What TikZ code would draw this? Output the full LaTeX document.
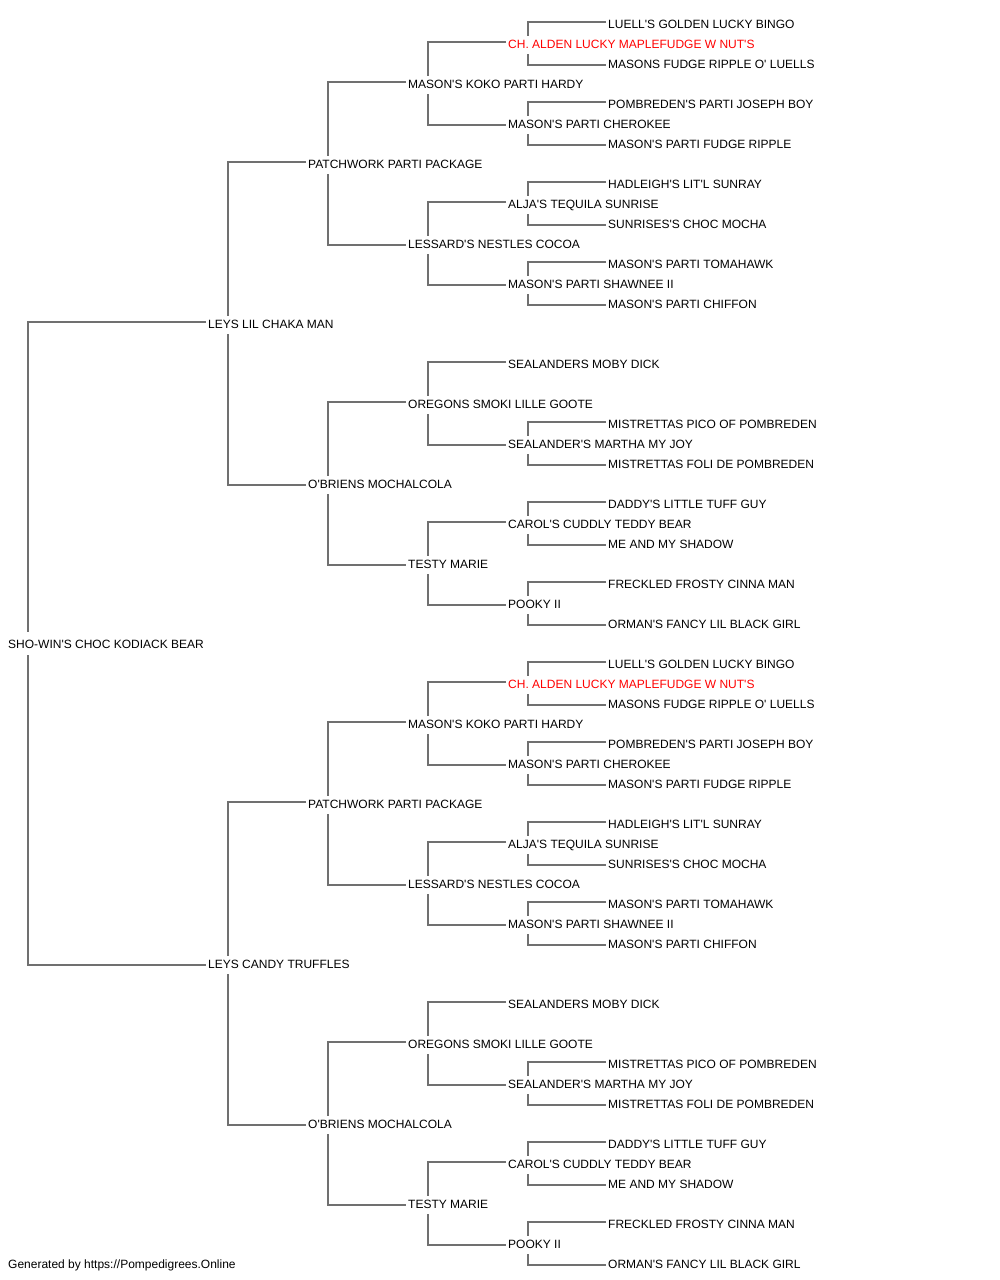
\documentclass[tikz,border=0pt]{standalone}
\usepackage{fontspec}
\newfontfamily\libsans{Liberation Sans}
\usetikzlibrary{calc}
\definecolor{linec}{RGB}{112,112,112}
\definecolor{txt}{RGB}{0,0,0}
\definecolor{redt}{RGB}{255,0,0}
\tikzset{
  pn/.style={anchor=west, inner sep=0pt, text height=16.8pt, text depth=6.2pt,
    font=\libsans\fontsize{12}{14}\selectfont, text=txt},
  link/.style={draw=linec, line width=1.4pt}
}
% upper child: horizontal to child, vertical down to just above parent
\newcommand\upc[3][8]{\draw[link] ($(#3.west)+(-2,-1.5)$) -| ($(#2.west)+(20,-#1)$);}
% lower child: vertical from just below parent, horizontal to child
\newcommand\dnc[3][10.5]{\draw[link] ($(#2.west)+(20,#1)$) |- ($(#3.west)+(-2,1.5)$);}
\newcommand\pedhalf[3]{%
  \node[pn] (L1#2) at (208,323+#1) {#3};
  \node[pn] (L2a#2) at (308,163+#1) {PATCHWORK PARTI PACKAGE};
  \node[pn] (L2b#2) at (308,483+#1) {O'BRIENS MOCHALCOLA};
  \node[pn] (L3a#2) at (408,83+#1) {MASON'S KOKO PARTI HARDY};
  \node[pn] (L3b#2) at (408,243+#1) {LESSARD'S NESTLES COCOA};
  \node[pn] (L3c#2) at (408,403+#1) {OREGONS SMOKI LILLE GOOTE};
  \node[pn] (L3d#2) at (408,563+#1) {TESTY MARIE};
  \node[pn,text=redt] (L4a#2) at (508,43+#1) {CH. ALDEN LUCKY MAPLEFUDGE W NUT'S};
  \node[pn] (L4b#2) at (508,123+#1) {MASON'S PARTI CHEROKEE};
  \node[pn] (L4c#2) at (508,203+#1) {ALJA'S TEQUILA SUNRISE};
  \node[pn] (L4d#2) at (508,283+#1) {MASON'S PARTI SHAWNEE II};
  \node[pn] (L4e#2) at (508,363+#1) {SEALANDERS MOBY DICK};
  \node[pn] (L4f#2) at (508,443+#1) {SEALANDER'S MARTHA MY JOY};
  \node[pn] (L4g#2) at (508,523+#1) {CAROL'S CUDDLY TEDDY BEAR};
  \node[pn] (L4h#2) at (508,603+#1) {POOKY II};
  \node[pn] (L5a#2) at (608,23+#1) {LUELL'S GOLDEN LUCKY BINGO};
  \node[pn] (L5b#2) at (608,63+#1) {MASONS FUDGE RIPPLE O' LUELLS};
  \node[pn] (L5c#2) at (608,103+#1) {POMBREDEN'S PARTI JOSEPH BOY};
  \node[pn] (L5d#2) at (608,143+#1) {MASON'S PARTI FUDGE RIPPLE};
  \node[pn] (L5e#2) at (608,183+#1) {HADLEIGH'S LIT'L SUNRAY};
  \node[pn] (L5f#2) at (608,223+#1) {SUNRISES'S CHOC MOCHA};
  \node[pn] (L5g#2) at (608,263+#1) {MASON'S PARTI TOMAHAWK};
  \node[pn] (L5h#2) at (608,303+#1) {MASON'S PARTI CHIFFON};
  \node[pn] (L5k#2) at (608,423+#1) {MISTRETTAS PICO OF POMBREDEN};
  \node[pn] (L5l#2) at (608,463+#1) {MISTRETTAS FOLI DE POMBREDEN};
  \node[pn] (L5m#2) at (608,503+#1) {DADDY'S LITTLE TUFF GUY};
  \node[pn] (L5n#2) at (608,543+#1) {ME AND MY SHADOW};
  \node[pn] (L5o#2) at (608,583+#1) {FRECKLED FROSTY CINNA MAN};
  \node[pn] (L5p#2) at (608,623+#1) {ORMAN'S FANCY LIL BLACK GIRL};
  \upc{L1#2}{L2a#2}\dnc{L1#2}{L2b#2}
  \upc{L2a#2}{L3a#2}\dnc{L2a#2}{L3b#2}
  \upc{L2b#2}{L3c#2}\dnc{L2b#2}{L3d#2}
  \upc{L3a#2}{L4a#2}\dnc{L3a#2}{L4b#2}
  \upc{L3b#2}{L4c#2}\dnc{L3b#2}{L4d#2}
  \upc{L3c#2}{L4e#2}\dnc{L3c#2}{L4f#2}
  \upc{L3d#2}{L4g#2}\dnc{L3d#2}{L4h#2}
  \upc{L4a#2}{L5a#2}\dnc{L4a#2}{L5b#2}
  \upc{L4b#2}{L5c#2}\dnc{L4b#2}{L5d#2}
  \upc{L4c#2}{L5e#2}\dnc{L4c#2}{L5f#2}
  \upc{L4d#2}{L5g#2}\dnc{L4d#2}{L5h#2}
  \upc{L4f#2}{L5k#2}\dnc{L4f#2}{L5l#2}
  \upc{L4g#2}{L5m#2}\dnc{L4g#2}{L5n#2}
  \upc{L4h#2}{L5o#2}\dnc{L4h#2}{L5p#2}
}
\begin{document}
\begin{tikzpicture}[x=1pt,y=-1pt]
  \fill[white] (0,0) rectangle (1000,1280);
  \useasboundingbox (0,0) rectangle (1000,1280);
  \node[pn] (root) at (8,643.5) {SHO-WIN'S CHOC KODIACK BEAR};
  \pedhalf{0.5}{u}{LEYS LIL CHAKA MAN}
  \pedhalf{640.5}{l}{LEYS CANDY TRUFFLES}
  \upc[12]{root}{L1u}
  \dnc[11.5]{root}{L1l}
  \node[pn] (footer) at (8,1263.5) {Generated by https://Pompedigrees.Online};
\end{tikzpicture}
\end{document}
